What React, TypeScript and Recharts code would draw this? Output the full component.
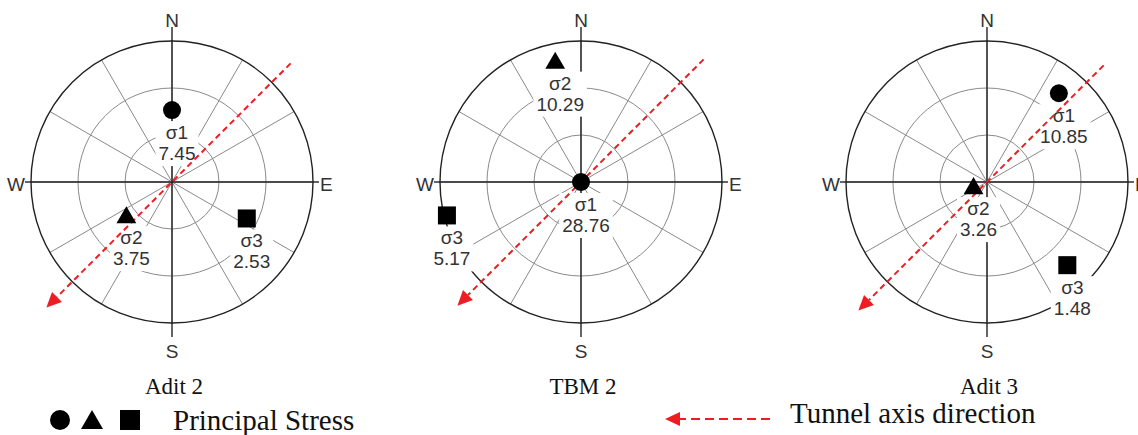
import { RadarChart, Radar, PolarGrid, PolarAngleAxis, PolarRadiusAxis } from 'recharts';

const panelTitles = ['Adit 2', 'TBM 2', 'Adit 3'];
const stressNames = ['σ1', 'σ2', 'σ3'];

// magnitude (MPa), trend (deg clockwise from N), distance from centre (1 = primitive circle)
const adit2Magnitude = [7.45, 3.75, 2.53];
const adit2Trend = [0, 234, 116];
const adit2Distance = [0.51, 0.4, 0.59];

const tbm2Magnitude = [28.76, 10.29, 5.17];
const tbm2Trend = [0, 348, 256];
const tbm2Distance = [0, 0.88, 0.98];

const adit3Magnitude = [10.85, 3.26, 1.48];
const adit3Trend = [39, 253, 136];
const adit3Distance = [0.81, 0.1, 0.82];

// tunnel axis drawn NE -> SW: [tail, arrow tip]
const tunnelTrend = [45, 225];
const adit2TunnelReach = [1.19, 1.26];
const tbm2TunnelReach = [1.23, 1.24];
const adit3TunnelReach = [1.17, 1.29];

const compassTicks = [0, 90, 180, 270];
const compassLabels = ['N', 'E', 'S', 'W'];
const spokeAngles = [0, 30, 60, 90, 120, 150, 180, 210, 240, 270, 300, 330];

const RED = '#ee1d23';
const SANS = '"Liberation Sans", Arial, sans-serif';
const SERIF = '"Liberation Serif", "Times New Roman", serif';
const R = 141;
const CY = 182;

const buildRows = (mag: number[], trend: number[], dist: number[], reach: number[]) => {
  const rows: any[] = mag.map((m, i) => ({ kind: 'stress', idx: i, name: stressNames[i], value: m, az: trend[i], r: dist[i] }));
  rows.push({ kind: 'tail', az: tunnelTrend[0], r: reach[0] });
  rows.push({ kind: 'tip', az: tunnelTrend[1], r: reach[1] });
  return rows;
};

const panels = [
  { title: panelTitles[0], rows: buildRows(adit2Magnitude, adit2Trend, adit2Distance, adit2TunnelReach), left: 0, width: 360, cx: 172 },
  { title: panelTitles[1], rows: buildRows(tbm2Magnitude, tbm2Trend, tbm2Distance, tbm2TunnelReach), left: 391, width: 380, cx: 190 },
  { title: panelTitles[2], rows: buildRows(adit3Magnitude, adit3Trend, adit3Distance, adit3TunnelReach), left: 797, width: 341, cx: 190 },
];

function Marker({ type, x, y, size }: { type: number; x: number; y: number; size: number }) {
  if (type === 0) return <circle cx={x} cy={y} r={size / 2} fill="#000" />;
  if (type === 1) {
    const h = size * 0.5;
    return (
      <polygon
        points={`${x},${y - h} ${x + size * 0.55},${y + size * 0.45} ${x - size * 0.55},${y + size * 0.45}`}
        fill="#000"
      />
    );
  }
  return <rect x={x - size / 2} y={y - size / 2} width={size} height={size} fill="#000" />;
}

const textWidth = (s: string, fs: number) =>
  s.split('').reduce((w, c) => w + (c === '.' ? 0.278 : 0.556), 0) * fs;

function StressLabel({ x, y, name, value }: { x: number; y: number; name: string; value: number }) {
  const lx = x + 5;
  const txt = value.toFixed(2);
  const w = textWidth(txt, 19);
  return (
    <g>
      <rect x={lx - w / 2 - 3} y={y + 11} width={w + 6} height={45} fill="#fff" />
      <text x={lx} y={y + 29} textAnchor="middle" fontFamily={SANS} fontSize={19} fill="#333">
        {name}
      </text>
      <text x={lx} y={y + 50} textAnchor="middle" fontFamily={SANS} fontSize={19} fill="#333">
        {txt}
      </text>
    </g>
  );
}

function DashedArrow({ x1, y1, x2, y2, dash }: { x1: number; y1: number; x2: number; y2: number; dash: string }) {
  const len = Math.hypot(x2 - x1, y2 - y1);
  const ux = (x2 - x1) / len;
  const uy = (y2 - y1) / len;
  const head = 15;
  const half = 7;
  const bx = x2 - ux * head;
  const by = y2 - uy * head;
  return (
    <g>
      <line x1={x1} y1={y1} x2={bx} y2={by} stroke={RED} strokeWidth={2} strokeDasharray={dash} />
      <polygon
        points={`${x2},${y2} ${bx - uy * half},${by + ux * half} ${bx + uy * half},${by - ux * half}`}
        fill={RED}
      />
    </g>
  );
}

// draws stress poles, their labels and the tunnel axis from the radar's computed points
function StereoShape(props: any) {
  const pts: any[] = props.points || [];
  const stresses = pts.filter((p) => p.payload.kind === 'stress');
  const tail = pts.find((p) => p.payload.kind === 'tail');
  const tip = pts.find((p) => p.payload.kind === 'tip');
  return (
    <g>
      {stresses.map((p) => (
        <StressLabel key={'l' + p.payload.idx} x={p.x} y={p.y} name={p.payload.name} value={p.payload.value} />
      ))}
      {tail && tip && <DashedArrow x1={tail.x} y1={tail.y} x2={tip.x} y2={tip.y} dash="6 4" />}
      {stresses.map((p) => (
        <Marker key={'m' + p.payload.idx} type={p.payload.idx} x={p.x} y={p.y} size={18} />
      ))}
    </g>
  );
}

// compass letter plus the short stub of the N-S / E-W axis poking out of the primitive circle
function CompassTick(props: any) {
  const { x, y, cx, cy, payload } = props;
  const i = compassTicks.indexOf(payload.value);
  const a = (payload.value * Math.PI) / 180;
  const ux = Math.sin(a);
  const uy = -Math.cos(a);
  const ext = i % 2 === 0 ? 14 : 6;
  const hasCentre = typeof cx === 'number' && typeof cy === 'number';
  const sx = hasCentre ? cx + ux * R : x;
  const sy = hasCentre ? cy + uy * R : y;
  const ex = sx + ux * ext;
  const ey = sy + uy * ext;
  let tx = ex;
  let ty = ey;
  let anchor: 'middle' | 'start' | 'end' = 'middle';
  if (i === 2) ty = ey + 21;
  if (i === 1) {
    anchor = 'start';
    ty = ey + 9;
    tx = ex + 1;
  }
  if (i === 3) {
    anchor = 'end';
    ty = ey + 9;
  }
  return (
    <g>
      <line x1={sx} y1={sy} x2={ex} y2={ey} stroke="#111" strokeWidth={1.3} />
      <text x={tx} y={ty} textAnchor={anchor} fontFamily={SANS} fontSize={19} fill="#333">
        {compassLabels[i]}
      </text>
    </g>
  );
}

function Stereonet({ rows, width, cx }: { rows: any[]; width: number; cx: number }) {
  return (
    <RadarChart
      width={width}
      height={370}
      data={rows}
      cx={cx}
      cy={CY}
      outerRadius={R}
      margin={{ top: 0, right: 0, bottom: 0, left: 0 }}
    >
      <PolarGrid gridType="circle" polarAngles={spokeAngles} polarRadius={[R / 3, (2 * R) / 3]} stroke="#8a8a8a" strokeWidth={1} />
      <PolarGrid gridType="circle" polarAngles={compassTicks} polarRadius={[R]} stroke="#222" strokeWidth={1.4} />
      <PolarAngleAxis
        type="number"
        dataKey="az"
        domain={[0, 360]}
        ticks={compassTicks}
        axisLine={false}
        tickLine={false}
        tickSize={0}
        tick={CompassTick}
      />
      <PolarRadiusAxis type="number" domain={[0, 1]} allowDataOverflow tick={false} axisLine={false} />
      <Radar dataKey="r" stroke="none" fill="none" dot={false} shape={StereoShape} isAnimationActive={false} />
    </RadarChart>
  );
}

export default function App() {
  return (
    <div style={{ position: 'absolute', left: 0, top: 0, width: 1138, height: 435, background: '#fff', overflow: 'hidden' }}>
      {panels.map((p) => (
        <div key={p.title} style={{ position: 'absolute', left: p.left, top: 0 }}>
          <Stereonet rows={p.rows} width={p.width} cx={p.cx} />
        </div>
      ))}
      <svg width={1138} height={65} style={{ position: 'absolute', left: 0, top: 370 }}>
        {panels.map((p) => (
          <text key={p.title} x={p.left + p.cx + 2} y={24} textAnchor="middle" fontFamily={SERIF} fontSize={23} fill="#111">
            {p.title}
          </text>
        ))}
        <Marker type={0} x={60} y={50} size={20} />
        <Marker type={1} x={92} y={50} size={20} />
        <Marker type={2} x={130} y={50} size={20} />
        <text x={173} y={60} fontFamily={SERIF} fontSize={29} fill="#111">
          Principal Stress
        </text>
        <DashedArrow x1={770} y1={49} x2={665} y2={49} dash="9 5" />
        <text x={790} y={53} fontFamily={SERIF} fontSize={29} fill="#111">
          Tunnel axis direction
        </text>
      </svg>
    </div>
  );
}
